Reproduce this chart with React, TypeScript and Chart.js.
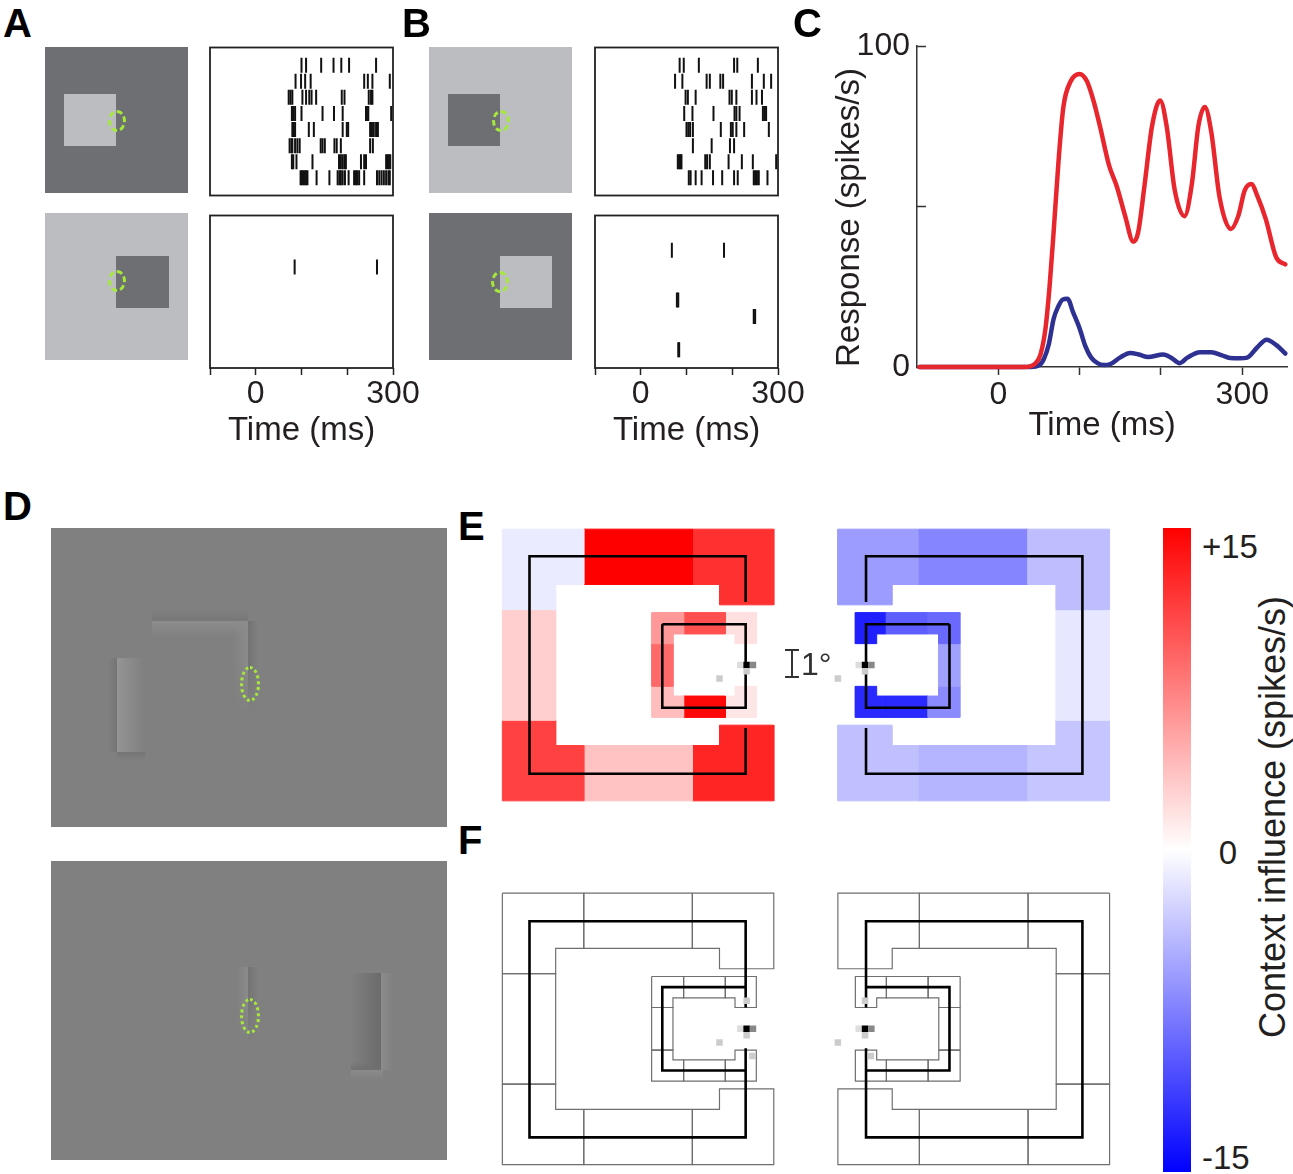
import React, { useEffect, useRef } from 'react';
import { Chart, registerables } from 'chart.js';

Chart.register(...registerables);

const FONT = "'Liberation Sans', Arial, Helvetica, sans-serif";
const INK = '#231f20';
Chart.defaults.font.family = FONT;
Chart.defaults.color = INK;

// ---------------- Panel A / B : spike rasters (spike times in ms, one array per trial) ----------------
const rasterATop: number[][] = [
  [100, 110, 143, 170, 187, 204, 263],
  [87, 99, 108, 120, 237, 245, 255, 293],
  [72, 76, 80, 102, 110, 117, 122, 132, 188, 194, 247, 252, 255],
  [79, 82, 86, 100, 146, 171, 190, 241, 243, 246, 296],
  [80, 83, 86, 116, 127, 190, 199, 202, 250, 254, 258, 263, 267],
  [74, 78, 80, 86, 91, 96, 142, 146, 151, 172, 177, 186, 250, 256],
  [79, 82, 89, 124, 182, 186, 190, 194, 197, 230, 237, 241, 285, 288, 291, 294],
  [98, 101, 104, 107, 110, 113, 133, 161, 179, 183, 186, 190, 195, 203, 215, 219, 222, 226, 237, 265, 270, 275, 280, 285, 290, 293],
];
const rasterABottom: number[][] = [[], [], [85, 265], [], [], [], [], []];
const rasterBTop: number[][] = [
  [85, 94, 127, 204, 211, 256],
  [75, 91, 144, 151, 174, 180, 243, 269, 285],
  [98, 103, 120, 194, 199, 209, 243, 253, 265],
  [95, 113, 159, 205, 209, 216, 267, 271, 274],
  [100, 104, 108, 114, 175, 197, 201, 209, 226, 280],
  [114, 155, 195, 204],
  [81, 84, 87, 89, 141, 145, 151, 192, 221, 245, 296],
  [105, 109, 120, 133, 158, 178, 204, 212, 247, 250, 254, 258, 277],
];
const rasterBBottom: number[][] = [[], [68, 182], [], [], [79, 82], [247, 250], [], [82, 84]];
const rasterTimeTicks = [-100, 0, 100, 200, 300];
const rasterTickLabels = ['', '0', '', '', '300'];

// ---------------- Panel C : PSTH ----------------
const timeRed = [-97, 30, 40, 46, 52, 58, 63, 68, 74, 80, 89, 100, 109, 117, 125, 136, 146, 156, 166, 172, 180, 189, 199, 207, 217, 229, 238, 246, 254, 262, 272, 286, 295, 303, 311, 319, 329, 342, 353];
const respRed = [0, 0, 0.3, 1.2, 4, 12, 25, 42, 64, 81, 89, 91.3, 89, 83, 75, 63, 56, 47, 39, 42, 57, 75, 83, 75, 55, 47, 57, 75, 81, 73, 53, 43, 47, 55, 57, 53, 46, 34, 32];
const timeBlue = [-97, 40, 50, 56, 62, 68, 74, 79, 85, 92, 100, 107, 114, 122, 130, 137, 150, 162, 174, 184, 203, 213, 223, 233, 248, 262, 275, 285, 297, 306, 318, 330, 342, 353];
const respBlue = [0, 0, 0.5, 2.5, 7, 15, 19, 21, 21.3, 17, 12, 6.5, 3, 1.2, 0.6, 0.8, 3, 4.4, 3.8, 3.1, 3.9, 2.8, 1.2, 3, 4.6, 4.6, 3.6, 2.8, 2.7, 2.9, 6, 8.5, 6.8, 4.2];
const respTicks = [0, 50, 100];
const timeTicksC = [0, 100, 200, 300];

// ---------------- Panel E / F : context map (RF at origin, left-side orientation) ----------------
const cellPolygons: number[][][] = [
  [[-252, -140], [-168, -140], [-168, -83], [-197, -83], [-197, -57], [-252, -57]],
  [[-168, -140], [-56, -140], [-56, -83], [-168, -83]],
  [[-56, -140], [28, -140], [28, -62], [-28, -62], [-28, -83], [-56, -83]],
  [[-252, -57], [-197, -57], [-197, 57], [-252, 57]],
  [[-252, 57], [-197, 57], [-197, 83], [-168, 83], [-168, 140], [-252, 140]],
  [[-168, 83], [-56, 83], [-56, 140], [-168, 140]],
  [[-56, 83], [-28, 83], [-28, 62], [28, 62], [28, 140], [-56, 140]],
  [[-98, -54], [-65, -54], [-65, -32], [-76, -32], [-76, -22], [-98, -22]],
  [[-65, -54], [-22, -54], [-22, -32], [-65, -32]],
  [[-22, -54], [10, -54], [10, -22], [-12, -22], [-12, -32], [-22, -32]],
  [[-98, -22], [-76, -22], [-76, 22], [-98, 22]],
  [[-98, 22], [-76, 22], [-76, 32], [-65, 32], [-65, 54], [-98, 54]],
  [[-65, 32], [-22, 32], [-22, 54], [-65, 54]],
  [[-22, 32], [-12, 32], [-12, 22], [10, 22], [10, 54], [-22, 54]],
];
const influenceLeft = [-1.2, 15, 12.2, 2.8, 11.2, 3.5, 12.8, 6, 10.3, 1.8, 8.8, 3.9, 14.5, 1.5];
const influenceRight = [-3.8, -7.2, -5.8, -1.4, -3.4, -4.4, -3.7, -8.8, -9.5, -13.1, -5.6, -6.8, -12.5, -12.5];
const outlineE: number[][][] = [
  [[-1, -65], [-1, -112], [-224, -112], [-224, 112], [-1, 112], [-1, 65]],
  [[-87, -42], [-1, -42], [-1, 44], [-87, 44], [-87, -42]],
];
const outlineF: number[][][] = [
  [[-1, -22], [-1, -111], [-224, -111], [-224, 112], [-1, 112], [-1, 20]],
  [[-1, -43], [-87, -43], [-87, 43], [-1, 43]],
];
const rfDotX = [-6.5, 0, 6.5, 0, -28];
const rfDotY = [0, 0, 0, 6.5, 14];
const rfDotShade = ['#dddddd', '#000000', '#888888', '#cccccc', '#cccccc'];
const rfDotExtraX = [0, 6];
const rfDotExtraY = [-29, 28];
const rfDotExtraShade = ['#cccccc', '#cccccc'];
const colorbarLabels = ['+15', '0', '-15'];

// ---------------- helpers ----------------
const base: any = {
  responsive: false,
  animation: false,
  devicePixelRatio: 1,
  events: [],
  plugins: { legend: { display: false }, tooltip: { enabled: false } },
};

const boxPlugin = {
  id: 'frameBox',
  afterDatasetsDraw(chart: any) {
    const { ctx, chartArea: a } = chart;
    ctx.save();
    ctx.strokeStyle = '#222';
    ctx.lineWidth = 1.8;
    ctx.strokeRect(a.left, a.top, a.right - a.left, a.bottom - a.top);
    ctx.restore();
  },
};

function rasterConfig(rows: number[][], withAxis: boolean): any {
  const pts = rows.flatMap((times, i) => times.map((t) => ({ x: t, y: i + 1 })));
  const xScale: any = {
    type: 'linear',
    min: -100,
    max: 300,
    display: withAxis,
    afterBuildTicks: (s: any) => {
      s.ticks = rasterTimeTicks.map((v) => ({ value: v }));
    },
    grid: { drawOnChartArea: false, tickLength: 7, tickWidth: 1.5, tickColor: '#222' },
    border: { display: false },
    ticks: {
      padding: 0,
      autoSkip: false,
      maxRotation: 0,
      font: { size: 32 },
      color: INK,
      callback: (_v: any, i: number) => rasterTickLabels[i],
    },
    title: { display: true, text: 'Time (ms)', font: { size: 33 }, color: INK, padding: { top: 0, bottom: 5 } },
  };
  if (withAxis) {
    xScale.afterFit = (s: any) => {
      s.height = 88;
    };
  }
  return {
    type: 'scatter',
    data: {
      datasets: [
        {
          data: pts,
          pointStyle: 'line',
          pointRotation: 90,
          pointRadius: 7.5,
          pointBorderWidth: 2,
          pointBorderColor: '#111',
          pointBackgroundColor: '#111',
        },
      ],
    },
    options: {
      ...base,
      layout: { padding: { left: 30, right: 37, top: 5, bottom: withAxis ? 0 : 5 } },
      scales: {
        x: xScale,
        y: { type: 'linear', min: -0.1, max: 9.1, reverse: true, display: false },
      },
    },
    plugins: [boxPlugin],
  };
}

function responseConfig(): any {
  return {
    type: 'scatter',
    data: {
      datasets: [
        {
          data: timeRed.map((t, i) => ({ x: t, y: respRed[i] })),
          showLine: true,
          borderColor: '#e8262d',
          borderWidth: 4.5,
          pointRadius: 0,
          cubicInterpolationMode: 'monotone',
          borderCapStyle: 'round',
          borderJoinStyle: 'round',
          clip: false,
        },
        {
          data: timeBlue.map((t, i) => ({ x: t, y: respBlue[i] })),
          showLine: true,
          borderColor: '#2e3192',
          borderWidth: 4.5,
          pointRadius: 0,
          cubicInterpolationMode: 'monotone',
          borderCapStyle: 'round',
          borderJoinStyle: 'round',
          clip: false,
        },
      ],
    },
    options: {
      ...base,
      layout: { padding: { top: 40, right: 6, left: 0, bottom: 0 } },
      scales: {
        x: {
          type: 'linear',
          min: -100,
          max: 355,
          afterBuildTicks: (s: any) => {
            s.ticks = timeTicksC.map((v) => ({ value: v }));
          },
          afterFit: (s: any) => {
            s.height = 93;
          },
          grid: { drawOnChartArea: false, tickLength: 8, tickWidth: 1.5, tickColor: '#333' },
          border: { color: '#333', width: 1.5 },
          ticks: {
            padding: 1,
            autoSkip: false,
            maxRotation: 0,
            font: { size: 32 },
            color: INK,
            callback: (v: any) => (v === 0 || v === 300 ? String(v) : ''),
          },
          title: { display: true, text: 'Time (ms)', font: { size: 33 }, color: INK, padding: { top: 0, bottom: 14 } },
        },
        y: {
          type: 'linear',
          min: 0,
          max: 100,
          afterBuildTicks: (s: any) => {
            s.ticks = respTicks.map((v) => ({ value: v }));
          },
          afterFit: (s: any) => {
            s.width = 117;
          },
          grid: { drawOnChartArea: false, tickLength: -9, tickWidth: 1.5, tickColor: '#333' },
          border: { color: '#333', width: 1.5 },
          ticks: {
            padding: 16,
            font: { size: 32 },
            color: INK,
            callback: (v: any) => (v === 50 ? '' : String(v)),
          },
          title: {
            display: true,
            text: 'Response (spikes/s)',
            align: 'start',
            font: { size: 33 },
            color: INK,
            padding: { top: 30, bottom: 0 },
          },
        },
      },
    },
  };
}

function influenceColor(v: number) {
  const t = Math.min(1, Math.abs(v) / 15);
  const c = Math.round(255 * (1 - t));
  return v >= 0 ? `rgb(255,${c},${c})` : `rgb(${c},${c},255)`;
}

function mapConfig(mode: 'E' | 'F', mirror: boolean, values: number[], bounds: any): any {
  const sx = mirror ? -1 : 1;
  const toPts = (poly: number[][]) => poly.map(([x, y]) => ({ x: sx * x, y }));
  const dx = mode === 'E' ? rfDotX : rfDotX.concat(rfDotExtraX);
  const dy = mode === 'E' ? rfDotY : rfDotY.concat(rfDotExtraY);
  const shades = mode === 'E' ? rfDotShade : rfDotShade.concat(rfDotExtraShade);
  const datasets: any[] = [];
  datasets.push({
    data: dx.map((x, i) => ({ x, y: dy[i] })),
    pointStyle: 'rect',
    pointRadius: 4.6,
    pointBorderWidth: 0,
    pointBackgroundColor: shades,
    showLine: false,
  });
  (mode === 'E' ? outlineE : outlineF).forEach((line) => {
    datasets.push({
      data: toPts(line),
      showLine: true,
      fill: false,
      borderColor: '#000',
      borderWidth: 2.6,
      borderJoinStyle: 'miter',
      pointRadius: 0,
    });
  });
  cellPolygons.forEach((poly, i) => {
    const pts = toPts([...poly, poly[0]]);
    if (mode === 'E') {
      const col = influenceColor(values[i]);
      datasets.push({ data: pts, showLine: true, fill: 'shape', backgroundColor: col, borderColor: col, borderWidth: 1, pointRadius: 0 });
    } else {
      datasets.push({ data: pts, showLine: true, fill: false, borderColor: '#6f6f6f', borderWidth: 1.2, pointRadius: 0 });
    }
  });
  return {
    type: 'scatter',
    data: { datasets },
    options: {
      ...base,
      layout: { padding: 0 },
      scales: {
        x: { type: 'linear', min: bounds.xmin, max: bounds.xmax, display: false },
        y: { type: 'linear', min: bounds.ymin, max: bounds.ymax, reverse: true, display: false },
      },
    },
  };
}

function ChartBox({ left, top, width, height, build }: { left: number; top: number; width: number; height: number; build: () => any }) {
  const ref = useRef<HTMLCanvasElement>(null);
  useEffect(() => {
    const chart = new Chart(ref.current as HTMLCanvasElement, build());
    return () => chart.destroy();
  }, []);
  return <canvas ref={ref} width={width} height={height} style={{ position: 'absolute', left, top, width, height }} />;
}

function MapChart({ rfX, rfY, left, top, width, height, mode, mirror, values }: any) {
  const bounds = { xmin: left - rfX, xmax: left + width - rfX, ymin: top - rfY, ymax: top + height - rfY };
  return <ChartBox left={left} top={top} width={width} height={height} build={() => mapConfig(mode, mirror, values, bounds)} />;
}

function Txt({ x, y, text, size = 32, bold = false, anchor = 'left', rotate = false, color = INK }: any) {
  const tx = anchor === 'center' ? '-50%' : '0';
  return (
    <div
      style={{
        position: 'absolute',
        left: x,
        top: y,
        transform: `translate(${rotate ? '-50%' : tx}, -50%)${rotate ? ' rotate(-90deg)' : ''}`,
        fontSize: size,
        fontWeight: bold ? 700 : 400,
        lineHeight: 1,
        whiteSpace: 'nowrap',
        color,
        fontFamily: FONT,
      }}
    >
      {text}
    </div>
  );
}

function Rect({ l, t, w, h, bg, mask }: any) {
  return (
    <div
      style={{
        position: 'absolute',
        left: l,
        top: t,
        width: w,
        height: h,
        background: bg,
        WebkitMaskImage: mask,
        maskImage: mask,
      }}
    />
  );
}

function Ellipse({ cx, cy, rx, ry, style = 'dashed', bw = 2.5 }: any) {
  return (
    <div
      style={{
        position: 'absolute',
        left: cx - rx,
        top: cy - ry,
        width: rx * 2,
        height: ry * 2,
        border: `${bw}px ${style} #a6e83c`,
        borderRadius: '50%',
        boxSizing: 'border-box',
      }}
    />
  );
}

const DARK = '#6e6f73';
const LIGHT = '#bcbdc0';
const G0 = 'rgba(128,128,128,0)';
const FADE_DOWN = 'linear-gradient(to bottom, black 0%, black 40%, transparent 100%)';

export default function App() {
  useEffect(() => {
    document.body.style.margin = '0';
  }, []);
  return (
    <div style={{ position: 'absolute', left: 0, top: 0, width: 1293, height: 1174, background: '#fff', overflow: 'hidden', fontFamily: FONT }}>
      {/* Panel A stimuli */}
      <Rect l={45} t={47} w={143} h={146} bg={DARK} />
      <Rect l={64} t={94} w={52} h={52} bg={LIGHT} />
      <Ellipse cx={117} cy={121} rx={9} ry={11} bw={3} />
      <Rect l={45} t={213} w={143} h={147} bg={LIGHT} />
      <Rect l={116} t={256} w={53} h={52} bg={DARK} />
      <Ellipse cx={117} cy={281} rx={9} ry={11} bw={3} />
      {/* Panel B stimuli */}
      <Rect l={429} t={47} w={143} h={146} bg={LIGHT} />
      <Rect l={448} t={94} w={52} h={52} bg={DARK} />
      <Ellipse cx={501} cy={121} rx={9} ry={11} bw={3} />
      <Rect l={429} t={213} w={143} h={147} bg={DARK} />
      <Rect l={500} t={256} w={52} h={52} bg={LIGHT} />
      <Ellipse cx={500} cy={282} rx={9} ry={11} bw={3} />

      {/* Rasters */}
      <ChartBox left={180} top={38} width={250} height={167} build={() => rasterConfig(rasterATop, false)} />
      <ChartBox left={180} top={206} width={250} height={250} build={() => rasterConfig(rasterABottom, true)} />
      <ChartBox left={565} top={38} width={250} height={167} build={() => rasterConfig(rasterBTop, false)} />
      <ChartBox left={565} top={206} width={250} height={250} build={() => rasterConfig(rasterBBottom, true)} />

      {/* Panel C */}
      <ChartBox left={800} top={6} width={493} height={454} build={responseConfig} />

      {/* Panel D images */}
      <div style={{ position: 'absolute', left: 51, top: 528, width: 396, height: 299, background: '#808080', overflow: 'hidden' }}>
        <Rect l={101} t={82} w={96} h={11} bg={`linear-gradient(to top, #777777, ${G0})`} />
        <Rect l={101} t={93} w={96} h={16} bg={`linear-gradient(to bottom, #8d8d8d, ${G0})`} />
        <Rect l={181} t={93} w={16} h={92} bg={`linear-gradient(to left, #8b8b8b, ${G0})`} mask={FADE_DOWN} />
        <Rect l={197} t={93} w={10} h={92} bg={`linear-gradient(to right, #727272, ${G0})`} mask={FADE_DOWN} />
        <Rect l={66} t={130} w={26} h={94} bg={`linear-gradient(to right, #959595, ${G0})`} />
        <Rect l={57} t={130} w={9} h={94} bg={`linear-gradient(to left, #757575, ${G0})`} />
        <Rect l={66} t={224} w={28} h={8} bg={`linear-gradient(to bottom, #757575, ${G0})`} />
        <Ellipse cx={199} cy={156} rx={10} ry={18} style="dotted" bw={3} />
      </div>
      <div style={{ position: 'absolute', left: 51, top: 861, width: 396, height: 299, background: '#808080', overflow: 'hidden' }}>
        <Rect l={185} t={106} w={12} h={78} bg={`linear-gradient(to left, #8b8b8b, ${G0})`} mask={FADE_DOWN} />
        <Rect l={197} t={106} w={10} h={78} bg={`linear-gradient(to right, #737373, ${G0})`} mask={FADE_DOWN} />
        <Rect l={300} t={112} w={30} h={97} bg={`linear-gradient(to right, ${G0}, #6b6b6b)`} />
        <Rect l={330} t={112} w={12} h={97} bg={`linear-gradient(to right, #8c8c8c, ${G0})`} />
        <Rect l={300} t={201} w={30} h={8} bg={`linear-gradient(to bottom, ${G0}, #707070)`} />
        <Rect l={300} t={209} w={32} h={10} bg={`linear-gradient(to bottom, #8b8b8b, ${G0})`} />
        <Ellipse cx={199} cy={155} rx={10} ry={18} style="dotted" bw={3} />
      </div>

      {/* Panels E and F */}
      <MapChart rfX={750} rfY={665} left={490} top={510} width={300} height={310} mode="E" mirror={false} values={influenceLeft} />
      <MapChart rfX={862} rfY={665} left={810} top={510} width={310} height={310} mode="E" mirror={true} values={influenceRight} />
      <MapChart rfX={750} rfY={1029} left={490} top={874} width={300} height={300} mode="F" mirror={false} values={influenceLeft} />
      <MapChart rfX={862} rfY={1029} left={810} top={874} width={310} height={300} mode="F" mirror={true} values={influenceRight} />

      {/* 1 degree scale bar */}
      <Rect l={791} t={650} w={2} h={28} bg="#333" />
      <Rect l={785} t={649} w={14} h={2} bg="#333" />
      <Rect l={785} t={676} w={14} h={2} bg="#333" />
      <Txt x={801} y={664} text="1°" size={32} color="#333" />

      {/* Colour bar */}
      <Rect l={1163} t={528} w={28} h={644} bg="linear-gradient(to bottom, #ff0000 0%, #ffffff 50%, #0000ff 100%)" />
      <Txt x={1202} y={546} text={colorbarLabels[0]} size={33} />
      <Txt x={1228} y={852} text={colorbarLabels[1]} size={33} anchor="center" />
      <Txt x={1202} y={1157} text={colorbarLabels[2]} size={33} />
      <Txt x={1273} y={817} text="Context influence (spikes/s)" size={36} rotate={true} />

      {/* Panel letters */}
      <Txt x={3} y={23} text="A" size={40} bold={true} color="#000" />
      <Txt x={402} y={23} text="B" size={40} bold={true} color="#000" />
      <Txt x={793} y={23} text="C" size={40} bold={true} color="#000" />
      <Txt x={3} y={506} text="D" size={40} bold={true} color="#000" />
      <Txt x={458} y={526} text="E" size={40} bold={true} color="#000" />
      <Txt x={458} y={840} text="F" size={40} bold={true} color="#000" />
    </div>
  );
}
